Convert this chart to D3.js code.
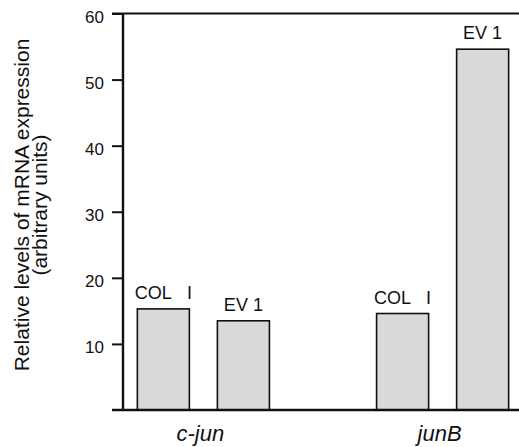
<!DOCTYPE html>
<html>
<head>
<meta charset="utf-8">
<script src="https://cdn.jsdelivr.net/npm/d3@7"></script>
<style>
  html, body { margin: 0; padding: 0; background: #fff; }
  svg { display: block; }
  text { font-family: "Liberation Sans", Arial, Helvetica, sans-serif; fill: #111; }
</style>
</head>
<body>
<script>
// ---- data ----
const categories = ["c-jun", "junB"];
const series = ["COL I", "EV 1"];
const colIValues = [15.3, 14.6];
const ev1Values = [13.5, 54.6];
const yTicks = [10, 20, 30, 40, 50, 60];
const yLabelLines = ["Relative levels of mRNA expression", "(arbitrary units)"];

const seriesValues = { "COL I": colIValues, "EV 1": ev1Values };
const rows = categories.map((c, i) => ({
  category: c,
  values: series.map(s => ({ series: s, value: seriesValues[s][i] }))
}));

// ---- layout ----
const W = 519, H = 447;
const mLeft = 123, mRight = 523, mTop = 13.5, mBottom = 410;

const svg = d3.select("body").append("svg").attr("width", W).attr("height", H);

const x0 = d3.scaleBand().domain(categories).range([mLeft, mRight])
  .paddingInner(0.448).paddingOuter(0.06);
const x1 = d3.scaleBand().domain(series).range([0, x0.bandwidth()])
  .paddingInner(0.35).paddingOuter(0);
const y = d3.scaleLinear().domain([0, 60]).range([mBottom, mTop]);

// bars
const g = svg.append("g");
const groups = g.selectAll("g.grp").data(rows).join("g")
  .attr("class", "grp")
  .attr("transform", d => `translate(${x0(d.category)},0)`);

groups.selectAll("rect").data(d => d.values).join("rect")
  .attr("x", d => x1(d.series))
  .attr("y", d => y(d.value))
  .attr("width", x1.bandwidth())
  .attr("height", d => y(0) - y(d.value))
  .attr("fill", "#d9d9d9")
  .attr("stroke", "#111")
  .attr("stroke-width", 1.6);

groups.selectAll("text.bl").data(d => d.values).join("text")
  .attr("class", "bl")
  .attr("x", d => x1(d.series) + x1.bandwidth() / 2)
  .attr("y", d => y(d.value) - 10)
  .attr("text-anchor", "middle")
  .style("font-size", "18px")
  .text(d => d.series === "COL I" ? "COL\u00a0\u00a0\u00a0I" : d.series);

// y axis
const yAxis = d3.axisLeft(y).tickValues(yTicks).tickSize(11).tickPadding(8);
const ax = svg.append("g").attr("transform", `translate(${mLeft},0)`).call(yAxis);
ax.select(".domain").remove();
ax.selectAll(".tick line").attr("stroke", "#111").attr("stroke-width", 2);
ax.selectAll(".tick text")
  .attr("dy", "0.5em")
  .style("font-size", "17px")
  .style("font-family", "'Liberation Sans', Arial, sans-serif")
  .attr("fill", "#111");

// frame lines
svg.append("line").attr("x1", mLeft).attr("x2", mLeft).attr("y1", mTop).attr("y2", mBottom)
  .attr("stroke", "#111").attr("stroke-width", 2.4);
svg.append("line").attr("x1", mLeft - 11).attr("x2", W).attr("y1", mTop).attr("y2", mTop)
  .attr("stroke", "#111").attr("stroke-width", 2.2);
svg.append("line").attr("x1", mLeft - 11).attr("x2", W).attr("y1", mBottom).attr("y2", mBottom)
  .attr("stroke", "#111").attr("stroke-width", 2.6);

// category labels
svg.selectAll("text.cat").data(categories).join("text")
  .attr("class", "cat")
  .attr("x", d => x0(d) + x0.bandwidth() / 2 - 3)
  .attr("y", 441)
  .attr("text-anchor", "middle")
  .style("font-size", "22px")
  .style("font-style", "italic")
  .text(d => d);

// y label
const yc = 205;
svg.selectAll("text.yl").data(yLabelLines).join("text")
  .attr("class", "yl")
  .attr("transform", (d, i) => `translate(${i === 0 ? 29 : 47},${yc}) rotate(-90)`)
  .attr("text-anchor", "middle")
  .style("font-size", "21px")
  .text(d => d);
</script>
</body>
</html>
